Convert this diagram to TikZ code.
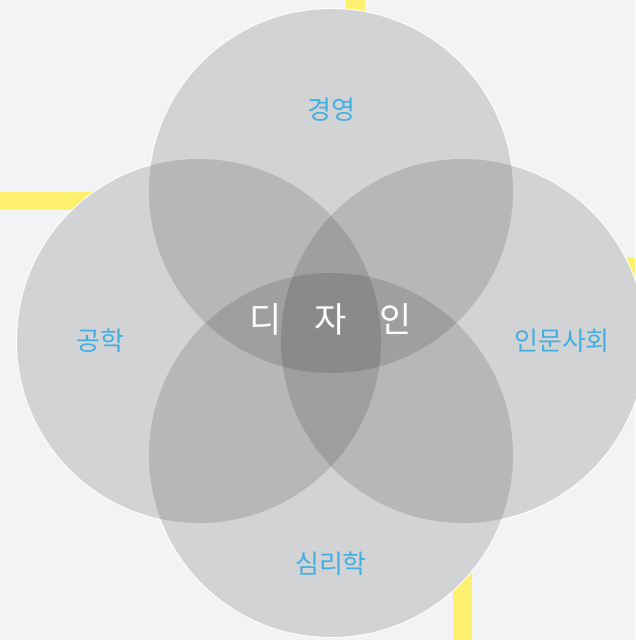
\documentclass[tikz,border=0pt]{standalone}
\usepackage{fontspec}
\newfontfamily\krfont{Noto Sans CJK KR}
\definecolor{bgc}{HTML}{F2F3F5}
\definecolor{ylw}{HTML}{FDF06F}
\definecolor{lblue}{HTML}{45AEE0}
\begin{document}
\begin{tikzpicture}[x=1pt,y=-1pt,
  venn/.style={fill=black,fill opacity=0.13},
  rim/.style={draw=white,line width=2pt},
  base/.style={fill=bgc},
  bar/.style={fill=ylw},
  lbl/.style={text=lblue,font=\krfont\fontsize{26}{30}\selectfont,inner sep=0pt},
  ctr/.style={text=white,font=\krfont\fontsize{35}{38}\selectfont,inner sep=0pt}]
\fill[bgc] (0,0) rectangle (635,640);
\useasboundingbox (0,0) rectangle (635,640);
% yellow bars behind
\fill[bar] (346,0) rectangle (365,60);
\fill[bar] (0,192) rectangle (120,210);
\fill[bar] (600,257) rectangle (635,276);
\fill[bar] (453,560) rectangle (472,640);
% circles
\coordinate (ct) at (331,191);
\coordinate (cl) at (199,341);
\coordinate (cr) at (463,341);
\coordinate (cb) at (331,455);
\foreach \c in {ct,cl,cr,cb} \path[rim] (\c) circle (182);
\foreach \c in {ct,cl,cr,cb} \fill[base] (\c) circle (182);
\foreach \c in {ct,cl,cr,cb} \path[venn] (\c) circle (182);
% labels
\node[lbl] (t1) at (331,110) {경영};
\node[lbl] (t2) at (100,341) {공학};
\node[lbl] (t3) at (562,341) {인문사회};
\node[lbl] (t4) at (331,564) {심리학};
\node[ctr] (d1) at (266,319) {디};
\node[ctr] (d2) at (331,319) {자};
\node[ctr] (d3) at (396,319) {인};
\end{tikzpicture}
\end{document}
